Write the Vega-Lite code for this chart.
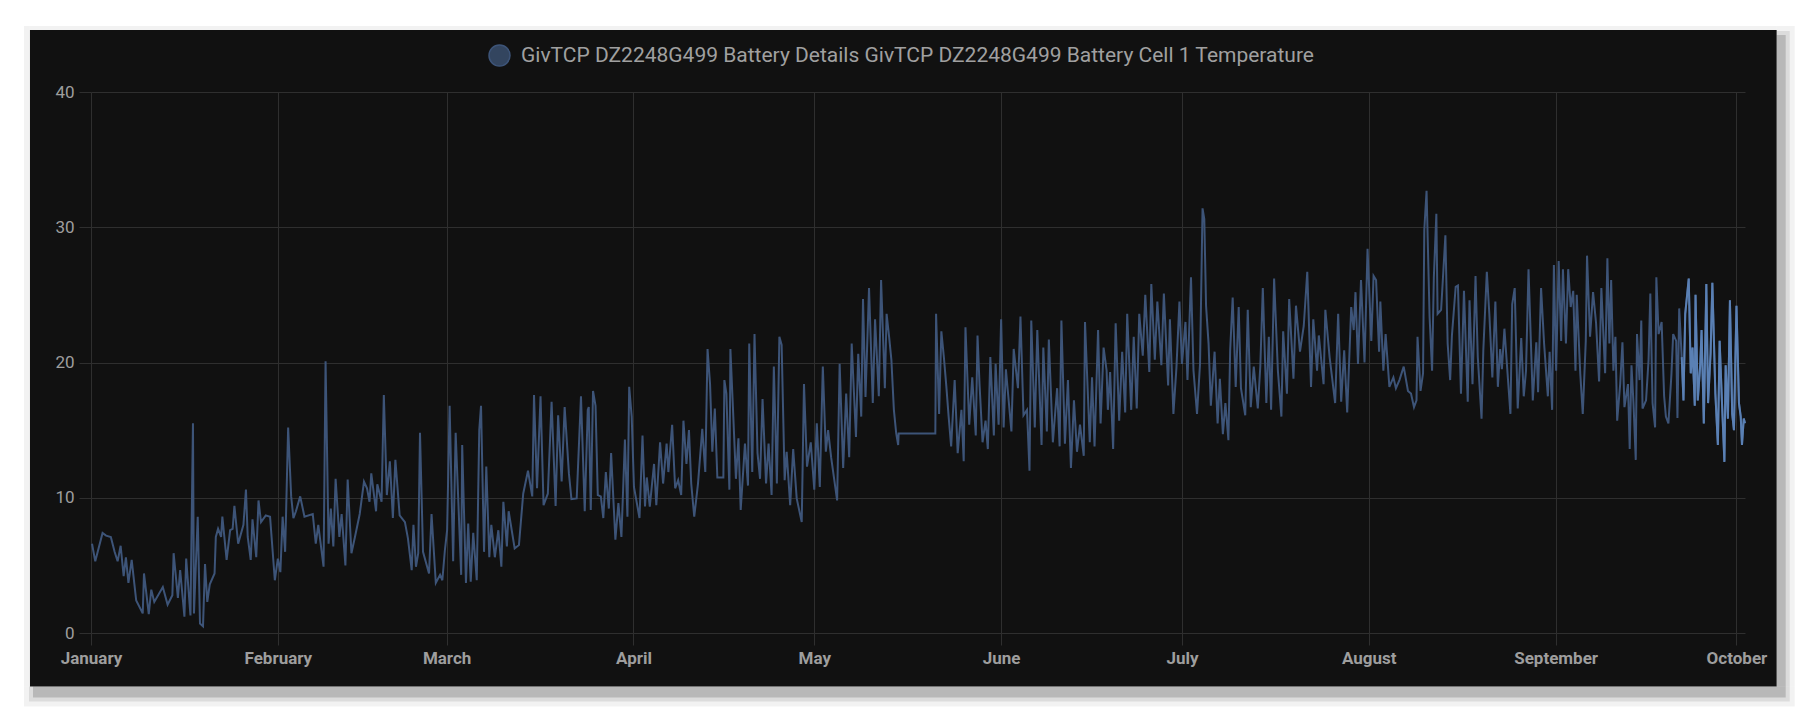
{
"$schema": "https://vega.github.io/schema/vega-lite/v6.json",
"width": 1654,
"height": 541,
"autosize": {"type": "none"},
"padding": {"left": 91, "top": 92, "right": 72, "bottom": 95},
"background": "#111111",
"config": {
"view": {"stroke": null},
"font": "Roboto",
"axis": {"labelFont": "Roboto", "labelFontSize": 17, "labelColor": "#9e9e9e", "labelPadding": 5, "tickSize": 12, "tickColor": "#2f2f2f", "grid": true, "gridColor": "#2f2f2f", "domain": false},
"axisX": {"labelFontWeight": "bold", "labelFlush": false, "labelOverlap": false}
},
"datasets": {
"frame": [{}]
},
"data": {"values": [
{"time":"2023-01-01T04:00","value":6.6},{"time":"2023-01-01T17:00","value":5.3},{"time":"2023-01-02T22:00","value":7.4},{"time":"2023-01-03T12:00","value":7.2},{"time":"2023-01-04T07:00","value":7.1},{"time":"2023-01-04T22:00","value":6.0},{"time":"2023-01-05T10:00","value":5.3},{"time":"2023-01-05T22:00","value":6.45},{"time":"2023-01-06T10:00","value":4.2},{"time":"2023-01-06T19:00","value":5.6},{"time":"2023-01-07T05:00","value":3.7},{"time":"2023-01-07T18:00","value":5.4},{"time":"2023-01-08T12:00","value":2.4},{"time":"2023-01-09T14:00","value":1.45},{"time":"2023-01-09T19:00","value":4.4},{"time":"2023-01-10T14:00","value":1.4},{"time":"2023-01-11T00:00","value":3.2},{"time":"2023-01-11T12:00","value":2.3},{"time":"2023-01-12T22:00","value":3.4},{"time":"2023-01-13T17:00","value":2.1},{"time":"2023-01-14T12:00","value":2.8},{"time":"2023-01-14T17:00","value":5.9},{"time":"2023-01-15T10:00","value":2.6},{"time":"2023-01-15T19:00","value":4.65},{"time":"2023-01-16T12:00","value":1.2},{"time":"2023-01-16T19:00","value":5.5},{"time":"2023-01-17T12:00","value":1.3},{"time":"2023-01-17T22:00","value":15.5},{"time":"2023-01-18T02:00","value":1.45},{"time":"2023-01-18T17:00","value":8.6},{"time":"2023-01-19T02:00","value":0.7},{"time":"2023-01-19T14:00","value":0.5},{"time":"2023-01-19T22:00","value":5.1},{"time":"2023-01-20T07:00","value":2.3},{"time":"2023-01-20T17:00","value":3.6},{"time":"2023-01-21T12:00","value":4.4},{"time":"2023-01-21T17:00","value":7.1},{"time":"2023-01-22T02:00","value":7.7},{"time":"2023-01-22T14:00","value":7.1},{"time":"2023-01-22T19:00","value":8.6},{"time":"2023-01-23T12:00","value":5.4},{"time":"2023-01-24T02:00","value":7.6},{"time":"2023-01-24T12:00","value":7.7},{"time":"2023-01-24T19:00","value":9.4},{"time":"2023-01-25T10:00","value":6.6},{"time":"2023-01-26T07:00","value":8.0},{"time":"2023-01-26T17:00","value":10.6},{"time":"2023-01-27T00:00","value":7.1},{"time":"2023-01-27T12:00","value":5.4},{"time":"2023-01-27T19:00","value":8.4},{"time":"2023-01-28T10:00","value":5.6},{"time":"2023-01-28T19:00","value":9.8},{"time":"2023-01-29T05:00","value":8.2},{"time":"2023-01-30T00:00","value":8.7},{"time":"2023-01-30T17:00","value":8.6},{"time":"2023-01-31T12:00","value":3.9},
{"time":"2023-02-01T00:00","value":5.5},{"time":"2023-02-01T10:00","value":4.5},{"time":"2023-02-01T19:00","value":8.6},{"time":"2023-02-02T05:00","value":6.0},{"time":"2023-02-02T17:00","value":15.2},{"time":"2023-02-03T05:00","value":10.1},{"time":"2023-02-03T14:00","value":8.5},{"time":"2023-02-04T00:00","value":9.0},{"time":"2023-02-04T17:00","value":10.1},{"time":"2023-02-05T10:00","value":8.6},{"time":"2023-02-06T19:00","value":8.8},{"time":"2023-02-07T07:00","value":6.6},{"time":"2023-02-07T17:00","value":8.0},{"time":"2023-02-08T14:00","value":4.9},{"time":"2023-02-08T22:00","value":20.1},{"time":"2023-02-09T10:00","value":6.6},{"time":"2023-02-09T19:00","value":9.2},{"time":"2023-02-10T05:00","value":6.4},{"time":"2023-02-10T14:00","value":11.4},{"time":"2023-02-11T05:00","value":7.1},{"time":"2023-02-11T14:00","value":8.8},{"time":"2023-02-12T05:00","value":5.0},{"time":"2023-02-12T14:00","value":11.35},{"time":"2023-02-13T05:00","value":5.9},{"time":"2023-02-13T19:00","value":7.1},{"time":"2023-02-14T14:00","value":8.8},{"time":"2023-02-15T07:00","value":11.2},{"time":"2023-02-15T19:00","value":10.7},{"time":"2023-02-16T05:00","value":9.7},{"time":"2023-02-16T12:00","value":11.8},{"time":"2023-02-17T07:00","value":9.0},{"time":"2023-02-17T12:00","value":11.0},{"time":"2023-02-18T05:00","value":9.7},{"time":"2023-02-18T14:00","value":17.6},{"time":"2023-02-19T02:00","value":10.2},{"time":"2023-02-19T14:00","value":12.7},{"time":"2023-02-20T02:00","value":8.5},{"time":"2023-02-20T12:00","value":12.8},{"time":"2023-02-21T05:00","value":8.7},{"time":"2023-02-22T02:00","value":8.2},{"time":"2023-02-22T14:00","value":7.0},{"time":"2023-02-23T05:00","value":4.65},{"time":"2023-02-23T12:00","value":8.0},{"time":"2023-02-23T22:00","value":4.9},{"time":"2023-02-24T07:00","value":5.9},{"time":"2023-02-24T14:00","value":14.8},{"time":"2023-02-25T02:00","value":6.0},{"time":"2023-02-26T02:00","value":4.4},{"time":"2023-02-26T12:00","value":8.8},{"time":"2023-02-27T05:00","value":3.7},{"time":"2023-02-27T22:00","value":4.3},{"time":"2023-02-28T07:00","value":3.9},{"time":"2023-02-28T17:00","value":6.1},
{"time":"2023-03-01T02:00","value":7.6},{"time":"2023-03-01T12:00","value":16.8},{"time":"2023-03-02T02:00","value":5.3},{"time":"2023-03-02T12:00","value":14.8},{"time":"2023-03-03T10:00","value":4.3},{"time":"2023-03-03T14:00","value":13.9},{"time":"2023-03-04T05:00","value":3.7},{"time":"2023-03-04T14:00","value":8.1},{"time":"2023-03-05T00:00","value":3.8},{"time":"2023-03-05T10:00","value":7.4},{"time":"2023-03-06T00:00","value":3.9},{"time":"2023-03-06T10:00","value":15.0},{"time":"2023-03-06T17:00","value":16.8},{"time":"2023-03-07T05:00","value":6.0},{"time":"2023-03-07T14:00","value":12.3},{"time":"2023-03-08T02:00","value":5.6},{"time":"2023-03-08T10:00","value":8.0},{"time":"2023-03-09T00:00","value":5.6},{"time":"2023-03-09T14:00","value":7.6},{"time":"2023-03-10T02:00","value":4.9},{"time":"2023-03-10T10:00","value":9.7},{"time":"2023-03-11T00:00","value":6.4},{"time":"2023-03-11T07:00","value":9.0},{"time":"2023-03-12T07:00","value":6.25},{"time":"2023-03-13T00:00","value":6.5},{"time":"2023-03-13T17:00","value":10.3},{"time":"2023-03-14T12:00","value":12.0},{"time":"2023-03-15T05:00","value":10.1},{"time":"2023-03-15T12:00","value":17.6},{"time":"2023-03-16T00:00","value":10.7},{"time":"2023-03-16T14:00","value":17.5},{"time":"2023-03-17T02:00","value":9.45},{"time":"2023-03-17T19:00","value":10.3},{"time":"2023-03-18T10:00","value":17.1},{"time":"2023-03-19T02:00","value":9.4},{"time":"2023-03-19T12:00","value":16.1},{"time":"2023-03-20T02:00","value":11.2},{"time":"2023-03-20T14:00","value":16.7},{"time":"2023-03-21T07:00","value":11.8},{"time":"2023-03-21T17:00","value":9.9},{"time":"2023-03-22T14:00","value":9.95},{"time":"2023-03-23T07:00","value":17.5},{"time":"2023-03-23T22:00","value":9.0},{"time":"2023-03-24T10:00","value":16.5},{"time":"2023-03-24T14:00","value":16.7},{"time":"2023-03-24T22:00","value":9.1},{"time":"2023-03-25T07:00","value":17.9},{"time":"2023-03-25T17:00","value":16.8},{"time":"2023-03-26T02:00","value":10.2},{"time":"2023-03-26T14:00","value":10.1},{"time":"2023-03-27T00:00","value":8.5},{"time":"2023-03-27T10:00","value":11.9},{"time":"2023-03-27T22:00","value":9.2},{"time":"2023-03-28T07:00","value":13.3},{"time":"2023-03-29T00:00","value":6.9},{"time":"2023-03-29T12:00","value":9.6},{"time":"2023-03-30T00:00","value":7.1},{"time":"2023-03-30T14:00","value":14.3},{"time":"2023-03-31T00:00","value":8.6},{"time":"2023-03-31T07:00","value":18.2},{"time":"2023-03-31T17:00","value":16.0},
{"time":"2023-04-01T02:00","value":10.8},{"time":"2023-04-02T00:00","value":8.5},{"time":"2023-04-02T12:00","value":14.6},{"time":"2023-04-02T22:00","value":9.35},{"time":"2023-04-03T05:00","value":11.5},{"time":"2023-04-03T17:00","value":9.35},{"time":"2023-04-04T10:00","value":12.5},{"time":"2023-04-04T19:00","value":9.45},{"time":"2023-04-05T10:00","value":14.1},{"time":"2023-04-05T22:00","value":11.05},{"time":"2023-04-06T12:00","value":14.0},{"time":"2023-04-06T19:00","value":11.9},{"time":"2023-04-07T10:00","value":15.4},{"time":"2023-04-07T22:00","value":10.7},{"time":"2023-04-08T10:00","value":11.3},{"time":"2023-04-08T22:00","value":10.2},{"time":"2023-04-09T07:00","value":15.7},{"time":"2023-04-09T19:00","value":12.5},{"time":"2023-04-10T05:00","value":15.0},{"time":"2023-04-10T14:00","value":11.05},{"time":"2023-04-11T02:00","value":8.6},{"time":"2023-04-11T17:00","value":11.05},{"time":"2023-04-12T10:00","value":15.1},{"time":"2023-04-12T22:00","value":11.9},{"time":"2023-04-13T07:00","value":21.0},{"time":"2023-04-13T17:00","value":18.4},{"time":"2023-04-14T02:00","value":13.4},{"time":"2023-04-14T12:00","value":16.6},{"time":"2023-04-14T22:00","value":11.5},{"time":"2023-04-15T22:00","value":11.5},{"time":"2023-04-16T02:00","value":18.7},{"time":"2023-04-16T10:00","value":17.7},{"time":"2023-04-16T22:00","value":10.6},{"time":"2023-04-17T02:00","value":21.0},{"time":"2023-04-17T12:00","value":16.7},{"time":"2023-04-18T00:00","value":11.4},{"time":"2023-04-18T10:00","value":14.4},{"time":"2023-04-18T19:00","value":9.1},{"time":"2023-04-19T12:00","value":14.0},{"time":"2023-04-20T00:00","value":10.9},{"time":"2023-04-20T05:00","value":21.4},{"time":"2023-04-20T17:00","value":11.9},{"time":"2023-04-21T02:00","value":22.1},{"time":"2023-04-21T14:00","value":13.3},{"time":"2023-04-22T00:00","value":11.4},{"time":"2023-04-22T10:00","value":17.3},{"time":"2023-04-23T00:00","value":11.05},{"time":"2023-04-23T10:00","value":14.0},{"time":"2023-04-23T22:00","value":10.2},{"time":"2023-04-24T07:00","value":19.7},{"time":"2023-04-24T19:00","value":11.05},{"time":"2023-04-25T05:00","value":21.9},{"time":"2023-04-25T14:00","value":21.3},{"time":"2023-04-26T02:00","value":11.3},{"time":"2023-04-26T10:00","value":13.4},{"time":"2023-04-27T00:00","value":9.45},{"time":"2023-04-27T12:00","value":13.6},{"time":"2023-04-28T02:00","value":9.95},{"time":"2023-04-28T22:00","value":8.2},{"time":"2023-04-29T07:00","value":18.4},{"time":"2023-04-29T19:00","value":12.3},{"time":"2023-04-30T10:00","value":14.1},
{"time":"2023-05-01T00:00","value":10.6},{"time":"2023-05-01T10:00","value":15.5},{"time":"2023-05-01T22:00","value":10.8},{"time":"2023-05-02T10:00","value":19.7},{"time":"2023-05-02T22:00","value":13.4},{"time":"2023-05-03T07:00","value":15.0},{"time":"2023-05-03T19:00","value":13.0},{"time":"2023-05-04T19:00","value":9.8},{"time":"2023-05-05T05:00","value":19.9},{"time":"2023-05-05T19:00","value":12.2},{"time":"2023-05-06T07:00","value":17.7},{"time":"2023-05-06T19:00","value":13.0},{"time":"2023-05-07T05:00","value":21.4},{"time":"2023-05-07T22:00","value":14.5},{"time":"2023-05-08T07:00","value":20.65},{"time":"2023-05-08T19:00","value":16.0},{"time":"2023-05-09T02:00","value":24.7},{"time":"2023-05-09T12:00","value":17.45},{"time":"2023-05-10T02:00","value":25.5},{"time":"2023-05-10T17:00","value":17.0},{"time":"2023-05-11T02:00","value":23.2},{"time":"2023-05-11T17:00","value":17.5},{"time":"2023-05-12T02:00","value":26.1},{"time":"2023-05-12T17:00","value":18.1},{"time":"2023-05-13T00:00","value":23.6},{"time":"2023-05-13T10:00","value":21.9},{"time":"2023-05-13T19:00","value":20.2},{"time":"2023-05-14T05:00","value":16.5},{"time":"2023-05-14T14:00","value":14.8},{"time":"2023-05-14T22:00","value":13.9},{"time":"2023-05-15T00:00","value":14.75},{"time":"2023-05-21T02:00","value":14.75},{"time":"2023-05-21T05:00","value":23.6},{"time":"2023-05-21T17:00","value":16.2},{"time":"2023-05-22T02:00","value":22.3},{"time":"2023-05-22T12:00","value":20.4},{"time":"2023-05-22T22:00","value":18.2},{"time":"2023-05-23T07:00","value":16.0},{"time":"2023-05-23T17:00","value":13.8},{"time":"2023-05-24T07:00","value":18.7},{"time":"2023-05-24T19:00","value":13.3},{"time":"2023-05-25T10:00","value":16.5},{"time":"2023-05-25T19:00","value":12.7},{"time":"2023-05-26T02:00","value":22.6},{"time":"2023-05-26T17:00","value":15.4},{"time":"2023-05-27T05:00","value":18.9},{"time":"2023-05-27T19:00","value":14.6},{"time":"2023-05-28T02:00","value":22.0},{"time":"2023-05-28T10:00","value":18.4},{"time":"2023-05-28T22:00","value":14.1},{"time":"2023-05-29T10:00","value":15.7},{"time":"2023-05-29T19:00","value":13.6},{"time":"2023-05-30T05:00","value":20.4},{"time":"2023-05-30T19:00","value":14.6},{"time":"2023-05-31T02:00","value":19.9},{"time":"2023-05-31T14:00","value":15.4},
{"time":"2023-06-01T00:00","value":23.2},{"time":"2023-06-01T10:00","value":15.2},{"time":"2023-06-01T19:00","value":19.5},{"time":"2023-06-02T17:00","value":14.9},{"time":"2023-06-03T02:00","value":21.0},{"time":"2023-06-03T19:00","value":18.1},{"time":"2023-06-04T05:00","value":23.4},{"time":"2023-06-04T17:00","value":16.1},{"time":"2023-06-05T07:00","value":16.5},{"time":"2023-06-05T17:00","value":12.0},{"time":"2023-06-06T00:00","value":23.1},{"time":"2023-06-06T14:00","value":15.2},{"time":"2023-06-07T00:00","value":22.4},{"time":"2023-06-07T17:00","value":13.9},{"time":"2023-06-08T00:00","value":21.1},{"time":"2023-06-08T14:00","value":14.9},{"time":"2023-06-08T22:00","value":21.7},{"time":"2023-06-09T14:00","value":14.1},{"time":"2023-06-10T07:00","value":18.1},{"time":"2023-06-10T17:00","value":13.8},{"time":"2023-06-11T00:00","value":23.1},{"time":"2023-06-11T14:00","value":14.0},{"time":"2023-06-12T02:00","value":18.7},{"time":"2023-06-12T14:00","value":12.2},{"time":"2023-06-13T02:00","value":17.2},{"time":"2023-06-13T14:00","value":13.4},{"time":"2023-06-14T02:00","value":15.4},{"time":"2023-06-14T17:00","value":13.1},{"time":"2023-06-14T22:00","value":23.0},{"time":"2023-06-15T17:00","value":14.1},{"time":"2023-06-16T02:00","value":18.9},{"time":"2023-06-16T12:00","value":13.8},{"time":"2023-06-17T02:00","value":22.4},{"time":"2023-06-17T12:00","value":15.5},{"time":"2023-06-18T00:00","value":21.1},{"time":"2023-06-18T12:00","value":19.4},{"time":"2023-06-18T17:00","value":16.5},{"time":"2023-06-19T02:00","value":19.3},{"time":"2023-06-19T14:00","value":13.6},{"time":"2023-06-20T00:00","value":22.9},{"time":"2023-06-20T14:00","value":15.7},{"time":"2023-06-21T02:00","value":20.8},{"time":"2023-06-21T14:00","value":16.3},{"time":"2023-06-21T22:00","value":23.6},{"time":"2023-06-22T14:00","value":16.5},{"time":"2023-06-23T00:00","value":21.9},{"time":"2023-06-23T12:00","value":16.6},{"time":"2023-06-23T22:00","value":23.6},{"time":"2023-06-24T12:00","value":20.5},{"time":"2023-06-24T22:00","value":25.0},{"time":"2023-06-25T14:00","value":19.3},{"time":"2023-06-25T22:00","value":25.8},{"time":"2023-06-26T12:00","value":20.2},{"time":"2023-06-26T22:00","value":24.5},{"time":"2023-06-27T14:00","value":19.8},{"time":"2023-06-28T00:00","value":25.1},{"time":"2023-06-28T17:00","value":18.3},{"time":"2023-06-29T00:00","value":23.2},{"time":"2023-06-29T14:00","value":16.2},{"time":"2023-06-30T02:00","value":19.6},{"time":"2023-06-30T14:00","value":24.5},
{"time":"2023-07-01T00:00","value":19.9},{"time":"2023-07-01T14:00","value":23.0},{"time":"2023-07-01T22:00","value":18.7},{"time":"2023-07-02T12:00","value":26.3},{"time":"2023-07-02T22:00","value":19.4},{"time":"2023-07-03T12:00","value":16.2},{"time":"2023-07-04T00:00","value":19.9},{"time":"2023-07-04T10:00","value":31.4},{"time":"2023-07-04T17:00","value":30.6},{"time":"2023-07-05T00:00","value":24.2},{"time":"2023-07-05T10:00","value":21.4},{"time":"2023-07-05T19:00","value":16.8},{"time":"2023-07-06T10:00","value":20.8},{"time":"2023-07-06T22:00","value":15.5},{"time":"2023-07-07T07:00","value":18.8},{"time":"2023-07-07T19:00","value":14.7},{"time":"2023-07-08T05:00","value":17.0},{"time":"2023-07-08T17:00","value":14.25},{"time":"2023-07-09T00:00","value":20.9},{"time":"2023-07-09T10:00","value":24.8},{"time":"2023-07-09T22:00","value":18.2},{"time":"2023-07-10T10:00","value":24.1},{"time":"2023-07-10T19:00","value":18.1},{"time":"2023-07-11T12:00","value":16.1},{"time":"2023-07-11T22:00","value":23.9},{"time":"2023-07-12T10:00","value":16.7},{"time":"2023-07-12T22:00","value":19.7},{"time":"2023-07-13T14:00","value":16.6},{"time":"2023-07-14T00:00","value":19.7},{"time":"2023-07-14T10:00","value":25.5},{"time":"2023-07-15T00:00","value":17.0},{"time":"2023-07-15T10:00","value":21.9},{"time":"2023-07-15T19:00","value":16.5},{"time":"2023-07-16T07:00","value":26.2},{"time":"2023-07-16T22:00","value":19.4},{"time":"2023-07-17T12:00","value":16.0},{"time":"2023-07-17T19:00","value":22.3},{"time":"2023-07-18T10:00","value":17.7},{"time":"2023-07-18T19:00","value":24.7},{"time":"2023-07-19T12:00","value":18.8},{"time":"2023-07-19T22:00","value":24.2},{"time":"2023-07-20T14:00","value":20.8},{"time":"2023-07-21T05:00","value":22.7},{"time":"2023-07-21T19:00","value":26.7},{"time":"2023-07-22T10:00","value":18.2},{"time":"2023-07-22T19:00","value":23.2},{"time":"2023-07-23T10:00","value":19.4},{"time":"2023-07-23T17:00","value":22.0},{"time":"2023-07-24T12:00","value":18.4},{"time":"2023-07-24T19:00","value":23.9},{"time":"2023-07-25T12:00","value":20.4},{"time":"2023-07-26T10:00","value":17.0},{"time":"2023-07-26T22:00","value":23.6},{"time":"2023-07-27T10:00","value":17.1},{"time":"2023-07-27T22:00","value":20.9},{"time":"2023-07-28T10:00","value":16.3},{"time":"2023-07-29T02:00","value":24.1},{"time":"2023-07-29T12:00","value":22.4},{"time":"2023-07-29T19:00","value":25.2},{"time":"2023-07-30T05:00","value":19.9},{"time":"2023-07-30T17:00","value":26.1},{"time":"2023-07-31T07:00","value":20.0},{"time":"2023-07-31T19:00","value":28.4},
{"time":"2023-08-01T10:00","value":21.6},{"time":"2023-08-01T19:00","value":26.4},{"time":"2023-08-02T05:00","value":26.1},{"time":"2023-08-02T17:00","value":20.8},{"time":"2023-08-02T22:00","value":24.5},{"time":"2023-08-03T10:00","value":19.4},{"time":"2023-08-03T19:00","value":22.1},{"time":"2023-08-04T10:00","value":18.2},{"time":"2023-08-05T02:00","value":18.9},{"time":"2023-08-05T12:00","value":18.1},{"time":"2023-08-06T02:00","value":18.7},{"time":"2023-08-06T19:00","value":19.7},{"time":"2023-08-07T12:00","value":17.9},{"time":"2023-08-08T00:00","value":17.7},{"time":"2023-08-08T12:00","value":16.7},{"time":"2023-08-08T22:00","value":17.2},{"time":"2023-08-09T02:00","value":21.9},{"time":"2023-08-09T14:00","value":17.9},{"time":"2023-08-10T00:00","value":19.2},{"time":"2023-08-10T05:00","value":29.8},{"time":"2023-08-10T14:00","value":32.7},{"time":"2023-08-11T02:00","value":23.4},{"time":"2023-08-11T12:00","value":19.4},{"time":"2023-08-11T19:00","value":26.3},{"time":"2023-08-12T05:00","value":31.0},{"time":"2023-08-12T10:00","value":23.6},{"time":"2023-08-13T00:00","value":23.9},{"time":"2023-08-13T17:00","value":29.4},{"time":"2023-08-14T02:00","value":21.4},{"time":"2023-08-14T12:00","value":18.7},{"time":"2023-08-14T19:00","value":22.0},{"time":"2023-08-15T10:00","value":25.6},{"time":"2023-08-15T19:00","value":25.7},{"time":"2023-08-16T07:00","value":17.7},{"time":"2023-08-16T19:00","value":25.3},{"time":"2023-08-17T10:00","value":17.1},{"time":"2023-08-17T17:00","value":24.6},{"time":"2023-08-18T05:00","value":18.4},{"time":"2023-08-18T17:00","value":26.4},{"time":"2023-08-19T02:00","value":20.4},{"time":"2023-08-19T17:00","value":15.85},{"time":"2023-08-20T00:00","value":20.9},{"time":"2023-08-20T14:00","value":26.7},{"time":"2023-08-21T00:00","value":23.6},{"time":"2023-08-21T12:00","value":18.9},{"time":"2023-08-22T00:00","value":24.5},{"time":"2023-08-22T10:00","value":18.2},{"time":"2023-08-22T19:00","value":21.0},{"time":"2023-08-23T02:00","value":19.5},{"time":"2023-08-23T12:00","value":22.5},{"time":"2023-08-24T02:00","value":18.8},{"time":"2023-08-24T12:00","value":16.2},{"time":"2023-08-24T19:00","value":24.3},{"time":"2023-08-25T05:00","value":25.5},{"time":"2023-08-25T17:00","value":16.6},{"time":"2023-08-26T07:00","value":21.8},{"time":"2023-08-26T17:00","value":17.5},{"time":"2023-08-27T02:00","value":19.4},{"time":"2023-08-27T12:00","value":26.9},{"time":"2023-08-28T05:00","value":17.2},{"time":"2023-08-28T19:00","value":21.5},{"time":"2023-08-29T02:00","value":17.8},{"time":"2023-08-29T14:00","value":25.5},{"time":"2023-08-30T02:00","value":21.4},{"time":"2023-08-30T17:00","value":17.5},{"time":"2023-08-31T00:00","value":20.8},{"time":"2023-08-31T10:00","value":16.5},{"time":"2023-08-31T17:00","value":27.2},
{"time":"2023-09-01T02:00","value":19.4},{"time":"2023-09-01T12:00","value":27.5},{"time":"2023-09-01T22:00","value":21.6},{"time":"2023-09-02T05:00","value":26.9},{"time":"2023-09-02T17:00","value":21.4},{"time":"2023-09-03T02:00","value":26.9},{"time":"2023-09-03T12:00","value":24.1},{"time":"2023-09-03T22:00","value":25.3},{"time":"2023-09-04T07:00","value":19.4},{"time":"2023-09-04T12:00","value":25.0},{"time":"2023-09-05T02:00","value":19.2},{"time":"2023-09-05T12:00","value":16.2},{"time":"2023-09-06T00:00","value":21.6},{"time":"2023-09-06T05:00","value":27.9},{"time":"2023-09-06T17:00","value":21.9},{"time":"2023-09-07T05:00","value":25.2},{"time":"2023-09-07T17:00","value":22.9},{"time":"2023-09-08T05:00","value":18.6},{"time":"2023-09-08T14:00","value":25.5},{"time":"2023-09-09T05:00","value":19.2},{"time":"2023-09-09T14:00","value":27.7},{"time":"2023-09-09T22:00","value":21.4},{"time":"2023-09-10T05:00","value":26.1},{"time":"2023-09-10T14:00","value":19.4},{"time":"2023-09-10T22:00","value":21.9},{"time":"2023-09-11T05:00","value":15.7},{"time":"2023-09-11T17:00","value":18.4},{"time":"2023-09-12T02:00","value":21.5},{"time":"2023-09-12T10:00","value":16.7},{"time":"2023-09-13T00:00","value":18.4},{"time":"2023-09-13T07:00","value":13.6},{"time":"2023-09-13T14:00","value":19.8},{"time":"2023-09-13T22:00","value":17.0},{"time":"2023-09-14T07:00","value":12.8},{"time":"2023-09-14T12:00","value":22.1},{"time":"2023-09-14T22:00","value":18.7},{"time":"2023-09-15T05:00","value":23.1},{"time":"2023-09-15T10:00","value":16.6},{"time":"2023-09-16T00:00","value":17.2},{"time":"2023-09-16T10:00","value":20.2},{"time":"2023-09-16T17:00","value":25.1},{"time":"2023-09-17T02:00","value":17.0},{"time":"2023-09-17T12:00","value":15.2},{"time":"2023-09-17T17:00","value":26.3},{"time":"2023-09-18T02:00","value":22.1},{"time":"2023-09-18T14:00","value":23.0},{"time":"2023-09-19T00:00","value":17.5},{"time":"2023-09-19T07:00","value":16.0},{"time":"2023-09-19T17:00","value":15.5},{"time":"2023-09-20T05:00","value":19.1},{"time":"2023-09-20T12:00","value":22.1},{"time":"2023-09-21T00:00","value":21.6},{"time":"2023-09-21T05:00","value":15.9},{"time":"2023-09-21T12:00","value":24.0},{"time":"2023-09-21T22:00","value":20.4},{"time":"2023-09-22T05:00","value":17.2},{"time":"2023-09-22T12:00","value":23.6},{"time":"2023-09-23T02:00","value":26.2},{"time":"2023-09-23T10:00","value":19.2},{"time":"2023-09-23T17:00","value":21.1},{"time":"2023-09-24T02:00","value":16.8},{"time":"2023-09-24T05:00","value":25.0},{"time":"2023-09-24T14:00","value":17.2},{"time":"2023-09-25T00:00","value":19.9},{"time":"2023-09-25T05:00","value":22.4},{"time":"2023-09-25T14:00","value":15.5},{"time":"2023-09-26T00:00","value":25.8},{"time":"2023-09-26T07:00","value":17.0},{"time":"2023-09-26T17:00","value":20.7},{"time":"2023-09-27T00:00","value":25.9},{"time":"2023-09-27T12:00","value":17.7},{"time":"2023-09-27T22:00","value":13.9},{"time":"2023-09-28T05:00","value":21.6},{"time":"2023-09-28T14:00","value":17.2},{"time":"2023-09-29T00:00","value":12.65},{"time":"2023-09-29T05:00","value":19.8},{"time":"2023-09-29T14:00","value":15.85},{"time":"2023-09-29T22:00","value":24.6},{"time":"2023-09-30T07:00","value":16.2},{"time":"2023-09-30T14:00","value":15.0},{"time":"2023-10-01T00:00","value":24.2},{"time":"2023-10-01T10:00","value":17.0},{"time":"2023-10-01T17:00","value":16.0},{"time":"2023-10-01T22:00","value":13.9},{"time":"2023-10-02T05:00","value":15.85},{"time":"2023-10-02T10:00","value":15.5}
]},
"layer": [
{"data": {"name": "frame"}, "mark": {"type": "rect", "color": "#ffffff"},
"encoding": {"x": {"datum": {"year": 2022, "month": 12, "date": 10}, "type": "temporal"}, "x2": {"datum": {"year": 2022, "month": 12, "date": 21, "hours": 21}}, "y": {"datum": -10, "type": "quantitative"}, "y2": {"datum": 50}}},
{"data": {"name": "frame"}, "mark": {"type": "rect", "color": "#ffffff"},
"encoding": {"x": {"datum": {"year": 2023, "month": 10, "date": 7, "hours": 16}, "type": "temporal"}, "x2": {"datum": {"year": 2023, "month": 10, "date": 25}}, "y": {"datum": -10, "type": "quantitative"}, "y2": {"datum": 50}}},
{"data": {"name": "frame"}, "mark": {"type": "rect", "color": "#ffffff"},
"encoding": {"x": {"datum": {"year": 2022, "month": 12, "date": 10}, "type": "temporal"}, "x2": {"datum": {"year": 2023, "month": 10, "date": 25}}, "y": {"datum": 44.58, "type": "quantitative"}, "y2": {"datum": 50}}},
{"data": {"name": "frame"}, "mark": {"type": "rect", "color": "#ffffff"},
"encoding": {"x": {"datum": {"year": 2022, "month": 12, "date": 10}, "type": "temporal"}, "x2": {"datum": {"year": 2023, "month": 10, "date": 25}}, "y": {"datum": -10, "type": "quantitative"}, "y2": {"datum": -3.956}}},
{"data": {"name": "frame"}, "mark": {"type": "rect", "color": "#000000", "opacity": 0.05},
"encoding": {"x": {"datum": {"year": 2022, "month": 12, "date": 20, "hours": 21}, "type": "temporal"}, "x2": {"datum": {"year": 2023, "month": 10, "date": 10, "hours": 16}}, "y": {"datum": -5.434, "type": "quantitative"}, "y2": {"datum": -3.956}}},
{"data": {"name": "frame"}, "mark": {"type": "rect", "color": "#000000", "opacity": 0.05},
"encoding": {"x": {"datum": {"year": 2023, "month": 10, "date": 7, "hours": 16}, "type": "temporal"}, "x2": {"datum": {"year": 2023, "month": 10, "date": 10, "hours": 16}}, "y": {"datum": -3.956, "type": "quantitative"}, "y2": {"datum": 44.88}}},
{"data": {"name": "frame"}, "mark": {"type": "rect", "color": "#000000", "opacity": 0.05},
"encoding": {"x": {"datum": {"year": 2022, "month": 12, "date": 20, "hours": 21}, "type": "temporal"}, "x2": {"datum": {"year": 2022, "month": 12, "date": 21, "hours": 21}}, "y": {"datum": -3.956, "type": "quantitative"}, "y2": {"datum": 44.88}}},
{"data": {"name": "frame"}, "mark": {"type": "rect", "color": "#000000", "opacity": 0.05},
"encoding": {"x": {"datum": {"year": 2022, "month": 12, "date": 21, "hours": 21}, "type": "temporal"}, "x2": {"datum": {"year": 2023, "month": 10, "date": 7, "hours": 16}}, "y": {"datum": 44.58, "type": "quantitative"}, "y2": {"datum": 44.88}}},
{"data": {"name": "frame"}, "mark": {"type": "rect", "color": "#000000", "opacity": 0.09},
"encoding": {"x": {"datum": {"year": 2022, "month": 12, "date": 21, "hours": 17}, "type": "temporal"}, "x2": {"datum": {"year": 2023, "month": 10, "date": 9, "hours": 20}}, "y": {"datum": -5.065, "type": "quantitative"}, "y2": {"datum": -3.956}}},
{"data": {"name": "frame"}, "mark": {"type": "rect", "color": "#000000", "opacity": 0.09},
"encoding": {"x": {"datum": {"year": 2023, "month": 10, "date": 7, "hours": 16}, "type": "temporal"}, "x2": {"datum": {"year": 2023, "month": 10, "date": 9, "hours": 20}}, "y": {"datum": -3.956, "type": "quantitative"}, "y2": {"datum": 44.51}}},
{"data": {"name": "frame"}, "mark": {"type": "rect", "color": "#000000", "opacity": 0.16},
"encoding": {"x": {"datum": {"year": 2022, "month": 12, "date": 22, "hours": 9}, "type": "temporal"}, "x2": {"datum": {"year": 2023, "month": 10, "date": 9, "hours": 4}}, "y": {"datum": -4.769, "type": "quantitative"}, "y2": {"datum": -3.956}}},
{"data": {"name": "frame"}, "mark": {"type": "rect", "color": "#000000", "opacity": 0.16},
"encoding": {"x": {"datum": {"year": 2023, "month": 10, "date": 7, "hours": 16}, "type": "temporal"}, "x2": {"datum": {"year": 2023, "month": 10, "date": 9, "hours": 4}}, "y": {"datum": -3.956, "type": "quantitative"}, "y2": {"datum": 44.21}}},
{
"mark": {"type": "line", "strokeWidth": 2},
"encoding": {
"x": {"field": "time", "type": "temporal", "scale": {"domain": [{"year": 2023, "month": 1, "date": 1}, {"year": 2023, "month": 10, "date": 2, "hours": 10}], "nice": false},
"axis": {"title": null, "values": [{"year": 2023, "month": 1, "date": 1}, {"year": 2023, "month": 2, "date": 1}, {"year": 2023, "month": 3, "date": 1}, {"year": 2023, "month": 4, "date": 1}, {"year": 2023, "month": 5, "date": 1}, {"year": 2023, "month": 6, "date": 1}, {"year": 2023, "month": 7, "date": 1}, {"year": 2023, "month": 8, "date": 1}, {"year": 2023, "month": 9, "date": 1}, {"year": 2023, "month": 10, "date": 1}], "format": "%B"}},
"y": {"field": "value", "type": "quantitative", "scale": {"domain": [0, 40], "nice": false},
"axis": {"title": null, "values": [0, 10, 20, 30, 40]}},
"color": {"datum": "GivTCP DZ2248G499 Battery Details GivTCP DZ2248G499 Battery Cell 1 Temperature", "type": "nominal", "scale": {"range": ["#3d5478"]},
"legend": {"title": null, "orient": "none", "legendX": 397, "legendY": -48, "symbolType": "circle", "symbolSize": 440, "labelFont": "Roboto", "labelFontSize": 21, "labelColor": "#a0a0a0", "labelOffset": 10, "labelLimit": 1200, "padding": 0,
"encode": {"symbols": {"update": {"fill": {"value": "#33455f"}, "stroke": {"value": "#4a6488"}, "strokeWidth": {"value": 1.5}, "opacity": {"value": 1}}}}}}
}
},
{
"transform": [{"filter": {"field": "time", "gte": {"year": 2023, "month": 9, "date": 21, "hours": 22}}}],
"mark": {"type": "line", "strokeWidth": 2, "color": "#5a80b4"},
"encoding": {
"x": {"field": "time", "type": "temporal"},
"y": {"field": "value", "type": "quantitative"}
}
}
]
}
